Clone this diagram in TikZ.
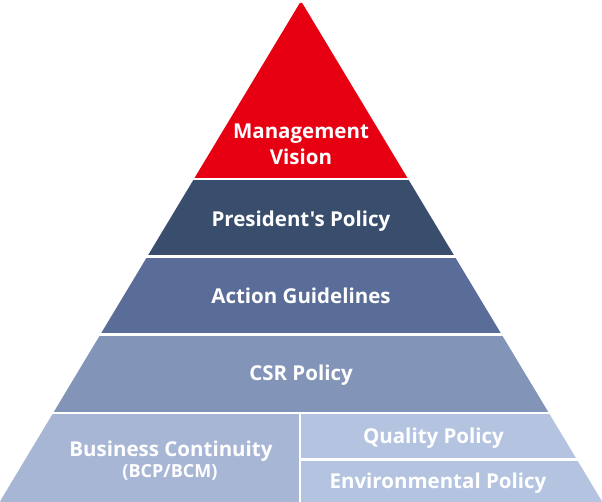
\documentclass[tikz,border=0pt]{standalone}
\usepackage{fontspec}
\newfontfamily\labelfont{Open Sans}
\usepackage{tikz}
\usetikzlibrary{positioning}
\definecolor{visionred}{HTML}{E60012}
\definecolor{policynavy}{HTML}{394D6D}
\definecolor{guideblue}{HTML}{5A6D98}
\definecolor{csrblue}{HTML}{8394B9}
\definecolor{bcpblue}{HTML}{A8B6D6}
\definecolor{qualityblue}{HTML}{B4C4E0}
\tikzset{
    tier/.style={text=white, font=\labelfont\bfseries\fontsize{20.5}{26}\selectfont, anchor=base, inner sep=0pt},
    subtier/.style={text=white, font=\labelfont\bfseries\fontsize{18}{22}\selectfont, anchor=base, inner sep=0pt}
}
\newcommand{\band}[5]{ % Takes left x, top y, right x, bottom y, fill colour as arguments
    \fill[#5] (#1,#2) rectangle (#3,#4);
}

\begin{document}
\begin{tikzpicture}[x=1pt, y=-1pt]
        \useasboundingbox (0,0) rectangle (602,502);

        % Pyramid outline, bands clipped to it
        \begin{scope}
            \clip[rounded corners=3pt] (301,1) -- (603,503) -- (-1,503) -- cycle;
            \band{0}{0}{602}{178}{visionred}
            \band{0}{180.5}{602}{255.5}{policynavy}
            \band{0}{258.5}{602}{333.5}{guideblue}
            \band{0}{336.5}{602}{411.5}{csrblue}
            \band{0}{414}{298.5}{503}{bcpblue}
            \band{301}{414}{603}{458}{qualityblue}
            \band{301}{460.5}{603}{503}{qualityblue}
        \end{scope}

        % Labels (placed on their baselines)
        \node[tier] (management) at (301,139) {Management};
        \node[tier] (vision) at (301,165) {Vision};
        \node[tier] (president) at (301,226.5) {President's Policy};
        \node[tier] (action) at (301,304) {Action Guidelines};
        \node[tier] (csr) at (301,380) {CSR Policy};
        \node[tier] (bcp) at (171,456) {Business Continuity};
        \node[subtier] (bcm) at (170,477) {(BCP/BCM)};
        \node[tier] (quality) at (433.5,443) {Quality Policy};
        \node[tier] (environment) at (438,488) {Environmental Policy};
    \end{tikzpicture}
\end{document}
